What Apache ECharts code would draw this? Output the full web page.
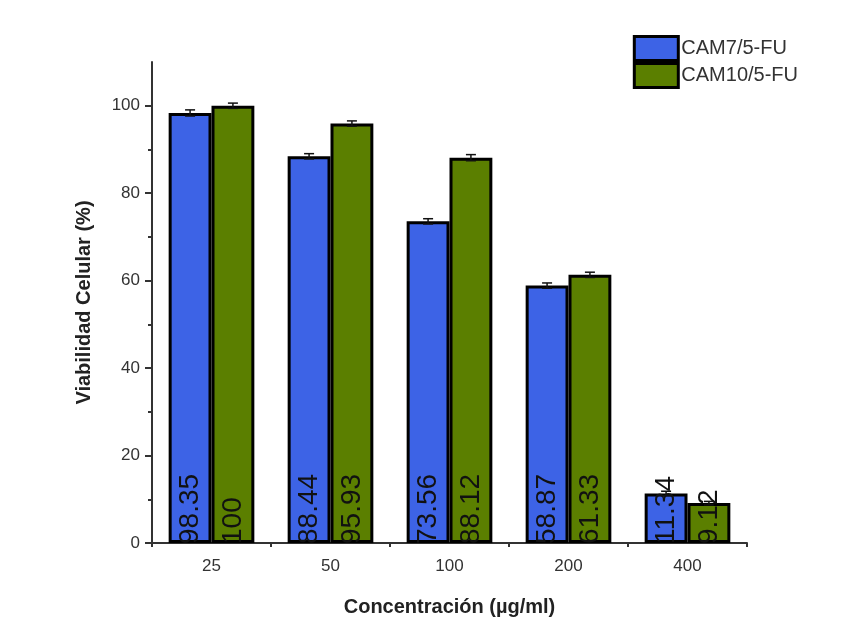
<!DOCTYPE html>
<html>
<head>
<meta charset="utf-8">
<script src="https://cdn.jsdelivr.net/npm/echarts@6/dist/echarts.min.js"></script>
<style>html,body{margin:0;padding:0;background:#fff}#c{width:849px;height:644px}</style>
</head>
<body>
<div id="c"></div>
<script>
const categories = ['25', '50', '100', '200', '400'];
const cam7 = [98.35, 88.44, 73.56, 58.87, 11.34];
const cam10 = [100, 95.93, 88.12, 61.33, 9.12];
const cam7Err = [0.7, 0.6, 0.6, 0.6, 0.5];
const cam10Err = [0.6, 0.6, 0.7, 0.6, 0.4];
const yMajorTicks = [0, 20, 40, 60, 80, 100];
const yMinorTicks = [10, 30, 50, 70, 90];

const BLUE = '#3d63e6';
const GREEN = '#5b7f00';
const BAR_W = 0.36;

function errorSeries(name, vals, errs, side) {
  return {
    type: 'custom',
    name: name + ' err',
    xAxisIndex: 0, yAxisIndex: 0,
    z: 10,
    silent: true,
    data: vals.map((v, i) => [i, v, errs[i]]),
    renderItem: function (params, api) {
      const i = api.value(0), v = api.value(1), e = api.value(2);
      const band = api.size([1, 0])[0];
      const cx = api.coord([i, v])[0] + side * band * BAR_W / 2;
      const top = api.coord([i, v + e])[1];
      const bot = api.coord([i, v - e])[1];
      const hw = 5;
      const style = { stroke: '#111', lineWidth: 1.5 };
      return {
        type: 'group',
        children: [
          { type: 'line', shape: { x1: cx, y1: top, x2: cx, y2: bot }, style: style },
          { type: 'line', shape: { x1: cx - hw, y1: top, x2: cx + hw, y2: top }, style: style },
          { type: 'line', shape: { x1: cx - hw, y1: bot, x2: cx + hw, y2: bot }, style: style }
        ]
      };
    }
  };
}

const barLabel = {
  show: true,
  position: 'insideBottom',
  distance: -1,
  rotate: 90,
  align: 'left',
  verticalAlign: 'middle',
  color: '#111',
  fontSize: 28,
  fontFamily: 'Liberation Sans, Arial, sans-serif'
};

const chart = echarts.init(document.getElementById('c'));
chart.setOption({
  backgroundColor: '#fff',
  animation: false,
  textStyle: { fontFamily: 'Liberation Sans, Arial, sans-serif' },
  grid: { left: 152, top: 62, right: 102, bottom: 101, containLabel: false },
  legend: {
    right: 46, top: 30,
    orient: 'vertical',
    icon: 'rect',
    itemWidth: 44, itemHeight: 24, itemGap: 0,
    data: ['CAM7/5-FU', 'CAM10/5-FU'],
    textStyle: { fontSize: 20, color: '#333', padding: [0, 0, 0, -2] },
    itemStyle: { borderColor: '#000', borderWidth: 3 }
  },
  xAxis: [{
    type: 'category',
    data: categories,
    name: 'Concentración (µg/ml)',
    nameLocation: 'middle',
    nameGap: 54,
    nameTextStyle: { fontSize: 20, fontWeight: 'bold', color: '#222' },
    axisLine: { lineStyle: { color: '#333', width: 2 } },
    axisTick: { alignWithLabel: true, length: 7, lineStyle: { color: '#333', width: 2 } },
    axisLabel: { fontSize: 17, color: '#333', margin: 15 }
  }, {
    type: 'category',
    data: categories,
    position: 'bottom',
    axisLine: { show: false },
    axisTick: { show: true, length: 4, lineStyle: { color: '#333', width: 2 } },
    axisLabel: { show: false },
    splitLine: { show: false }
  }],
  yAxis: [{
    type: 'value',
    min: 0, max: 110,
    name: 'Viabilidad Celular (%)',
    nameLocation: 'middle',
    nameGap: 58,
    nameTextStyle: { fontSize: 20, fontWeight: 'bold', color: '#222' },
    axisLine: { show: true, lineStyle: { color: '#333', width: 2 } },
    axisTick: { show: true, length: 7, customValues: yMajorTicks, lineStyle: { color: '#333', width: 2 } },
    axisLabel: { fontSize: 17, color: '#333', margin: 12, customValues: yMajorTicks },
    splitLine: { show: false }
  }, {
    type: 'value',
    min: 0, max: 110,
    position: 'left',
    axisLine: { show: false },
    axisTick: { show: true, length: 4, customValues: yMinorTicks, lineStyle: { color: '#333', width: 2 } },
    axisLabel: { show: false, customValues: yMinorTicks },
    splitLine: { show: false }
  }],
  series: [{
    name: 'CAM7/5-FU',
    type: 'bar',
    data: cam7,
    barWidth: (BAR_W * 100) + '%',
    barGap: '0%',
    itemStyle: { color: BLUE, borderColor: '#000', borderWidth: 3 },
    label: barLabel
  }, {
    name: 'CAM10/5-FU',
    type: 'bar',
    data: cam10,
    barWidth: (BAR_W * 100) + '%',
    barGap: '0%',
    itemStyle: { color: GREEN, borderColor: '#000', borderWidth: 3 },
    label: barLabel
  },
  errorSeries('CAM7/5-FU', cam7, cam7Err, -1),
  errorSeries('CAM10/5-FU', cam10, cam10Err, 1)
  ]
});
</script>
</body>
</html>
